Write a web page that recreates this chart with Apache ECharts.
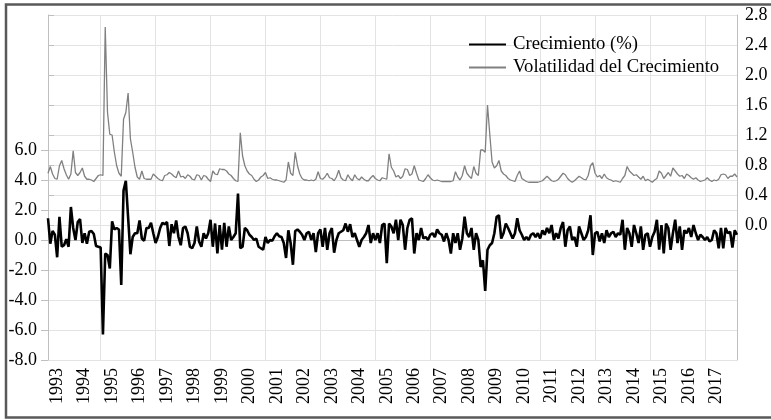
<!DOCTYPE html>
<html>
<head>
<meta charset="utf-8">
<script src="https://cdn.jsdelivr.net/npm/echarts@6/dist/echarts.min.js"></script>
<style>
html,body{margin:0;padding:0;background:#fff;}
#chart{width:771px;height:420px;}
</style>
</head>
<body>
<div id="chart"></div>
<script>
// Monthly series, Feb 1993 - Mar 2018
const startYear = 1993;
const startMonth = 2;

const crecimiento = [
1.45,-0.25,0.6,0.35,-1.15,1.55,-0.45,-0.35,0.05,-0.45,
2.2,0.8,0.0,1.2,1.4,-0.2,0.45,-0.25,0.55,0.6,
0.4,-0.4,-0.45,-0.5,-6.3,-0.9,-1.0,-1.9,1.25,0.7,
0.8,0.7,-3.0,3.3,3.95,1.5,-0.95,0.2,0.45,0.45,
1.3,0.1,-0.05,0.8,0.8,1.15,0.45,-0.2,0.2,0.8,
1.15,1.05,1.2,-0.4,1.05,0.45,1.3,0.2,-0.35,0.8,
0.9,0.45,-0.45,-0.55,-0.2,0.9,-0.1,-0.45,0.45,0.1,
0.45,1.35,-0.45,1.1,-0.9,1.0,-0.65,1.15,-0.45,0.9,
0.0,0.2,0.45,3.1,-0.55,-0.45,0.8,0.65,0.35,0.2,
0.0,0.1,-0.45,-0.55,-0.65,0.2,-0.2,0.0,-0.05,0.25,
0.45,0.25,0.2,-0.2,-1.2,0.65,-0.2,-1.65,0.6,0.7,
0.55,0.35,0.0,0.45,0.55,0.0,0.45,-0.8,0.45,0.7,
-0.45,0.8,-0.65,0.45,0.8,-0.85,0.0,0.45,0.55,0.65,
1.1,0.55,1.05,0.2,0.45,0.0,-0.45,0.0,0.2,0.45,
1.0,-0.2,0.45,0.0,0.45,-0.2,1.0,1.1,-1.55,1.1,
0.9,0.45,1.35,0.0,1.35,1.0,-0.65,0.8,1.35,1.45,
-0.9,0.45,0.0,0.8,0.1,0.2,0.0,0.35,0.45,0.2,
0.7,0.45,0.35,-0.1,0.45,0.0,-0.9,0.45,-0.2,0.45,
-0.65,0.1,1.55,0.45,0.2,0.8,-0.65,0.45,0.0,-1.8,
-1.35,-3.4,-0.65,-0.35,-0.2,0.45,1.55,1.65,0.1,0.45,
1.1,0.8,0.45,0.1,0.45,1.45,0.65,0.35,0.0,0.2,
0.0,0.35,0.45,0.2,0.45,0.1,0.65,0.35,0.8,0.45,
1.0,0.0,0.45,0.1,0.8,1.2,-0.45,0.65,0.9,0.0,
0.2,-0.45,0.9,0.45,0.0,0.2,0.65,1.65,-1.0,0.45,
0.55,-0.1,0.45,-0.2,0.65,0.2,0.45,0.55,0.2,0.45,
0.35,1.35,-0.65,0.8,0.45,-0.45,1.0,0.45,-0.2,0.9,
-0.65,0.35,0.45,-0.45,0.2,0.55,1.35,-0.65,1.0,-0.9,
1.1,0.8,-0.65,0.45,1.35,-0.2,0.9,-0.65,0.65,0.45,
0.8,0.2,1.0,0.45,0.0,0.35,0.2,0.0,0.2,-0.1,
0.0,0.65,0.45,-0.55,0.8,-0.55,0.8,0.45,0.55,-0.5,
0.65,0.35
];

const volatilidad = [
0.69,0.78,0.68,0.62,0.61,0.79,0.86,0.75,0.67,0.61,
0.68,0.99,0.70,0.66,0.70,0.76,0.65,0.61,0.61,0.60,
0.58,0.62,0.66,0.67,0.66,2.64,1.50,1.21,1.20,0.97,
0.79,0.69,0.65,1.41,1.50,1.76,1.15,0.97,0.77,0.64,
0.61,0.72,0.62,0.61,0.61,0.61,0.68,0.65,0.62,0.60,
0.59,0.66,0.67,0.70,0.68,0.65,0.63,0.72,0.64,0.65,
0.62,0.67,0.65,0.61,0.60,0.67,0.66,0.60,0.66,0.65,
0.61,0.58,0.72,0.68,0.67,0.75,0.74,0.74,0.72,0.68,
0.66,0.62,0.59,0.58,1.23,0.92,0.79,0.72,0.68,0.66,
0.61,0.58,0.60,0.64,0.66,0.70,0.62,0.63,0.61,0.60,
0.60,0.59,0.58,0.57,0.60,0.84,0.69,0.66,0.97,0.79,
0.68,0.62,0.60,0.60,0.59,0.60,0.59,0.61,0.71,0.62,
0.61,0.64,0.69,0.63,0.62,0.59,0.64,0.73,0.63,0.60,
0.59,0.67,0.62,0.59,0.67,0.62,0.60,0.64,0.61,0.59,
0.59,0.63,0.66,0.62,0.60,0.59,0.63,0.62,0.61,0.95,
0.77,0.72,0.64,0.66,0.62,0.65,0.75,0.74,0.66,0.68,
0.79,0.69,0.60,0.59,0.58,0.62,0.67,0.63,0.60,0.59,
0.60,0.59,0.58,0.58,0.58,0.58,0.58,0.59,0.71,0.64,
0.60,0.66,0.79,0.69,0.65,0.62,0.78,0.69,0.66,1.00,
1.00,0.97,1.60,1.21,0.84,0.76,0.79,0.86,0.72,0.68,
0.66,0.62,0.60,0.59,0.58,0.66,0.72,0.62,0.60,0.58,
0.57,0.57,0.57,0.57,0.57,0.58,0.59,0.62,0.65,0.62,
0.59,0.58,0.59,0.61,0.65,0.69,0.67,0.62,0.59,0.57,
0.59,0.62,0.65,0.63,0.61,0.60,0.66,0.79,0.83,0.69,
0.64,0.66,0.62,0.68,0.63,0.61,0.60,0.58,0.59,0.58,
0.57,0.62,0.66,0.78,0.72,0.69,0.66,0.67,0.64,0.61,
0.65,0.59,0.61,0.59,0.57,0.60,0.62,0.72,0.69,0.62,
0.66,0.70,0.65,0.76,0.72,0.68,0.65,0.66,0.62,0.68,
0.66,0.63,0.61,0.63,0.60,0.58,0.59,0.60,0.63,0.60,
0.58,0.60,0.59,0.61,0.67,0.68,0.67,0.62,0.65,0.65,
0.68,0.64
];

const yearLabels = ['1993','1994','1995','1996','1997','1998','1999','2000','2001','2002','2003','2004','2005','2006','2007','2008','2009','2010','2011','2012','2013','2014','2015','2016','2017'];
const gridYears = ['1995','1997','1999','2001','2003','2005','2007','2009','2011','2013','2015','2017'];
const leftTicks = {min: -8, max: 6, step: 2};
const rightTicks = {min: 0, max: 2.8, step: 0.4};
const seriesNames = ['Crecimiento (%)', 'Volatilidad del Crecimiento'];

const months = [];
for (let k = 0; k < crecimiento.length; k++) {
  const t = startMonth - 1 + k;
  const m = t % 12 + 1;
  const y = startYear + Math.floor(t / 12);
  months.push(y + '-' + (m < 10 ? '0' : '') + m);
}

const FONT = 'Liberation Serif';
const AXIS_C = '#bfbfbf';
const GRID_C = '#e3e3e3';

const chart = echarts.init(document.getElementById('chart'), null, {renderer: 'canvas'});
chart.setOption({
  animation: false,
  backgroundColor: '#ffffff',
  grid: [
    {left: 48, right: 34, top: 15, bottom: 60},
    {left: 48, right: 34, top: 150, bottom: 60},
    {left: 48, right: 34, top: 15, bottom: 195}
  ],
  legend: {
    data: seriesNames,
    orient: 'vertical',
    left: 463,
    top: 30,
    itemWidth: 37,
    itemHeight: 12,
    itemGap: 4,
    itemStyle: {opacity: 0},
    textStyle: {fontFamily: FONT, fontSize: 18.7, color: '#000', padding: [0, 0, 0, 2]}
  },
  xAxis: [
    {
      type: 'category', gridIndex: 0, data: months, boundaryGap: false,
      axisLine: {lineStyle: {color: AXIS_C, width: 1}},
      axisTick: {show: false},
      axisLabel: {
        interval: (i, v) => v.slice(5) === '06' && yearLabels.indexOf(v.slice(0, 4)) >= 0,
        formatter: v => v.slice(0, 4),
        rotate: 90, margin: 8,
        fontFamily: FONT, fontSize: 18, color: '#000'
      },
      splitLine: {
        show: true,
        interval: (i, v) => v.slice(5) === '01' && gridYears.indexOf(v.slice(0, 4)) >= 0,
        lineStyle: {color: GRID_C, width: 1}
      }
    },
    {type: 'value', gridIndex: 1, show: false, min: 0, max: 1},
    {type: 'value', gridIndex: 2, show: false, min: 0, max: 1}
  ],
  yAxis: [
    {
      type: 'value', gridIndex: 0, position: 'left', min: -8, max: 15,
      axisLine: {show: true, lineStyle: {color: AXIS_C}},
      axisTick: {show: false}, axisLabel: {show: false}, splitLine: {show: false}
    },
    {
      type: 'value', gridIndex: 0, position: 'right', min: -1.8, max: 2.8,
      axisLine: {show: true, lineStyle: {color: AXIS_C}},
      axisTick: {show: false}, axisLabel: {show: false}, splitLine: {show: false}
    },
    {
      type: 'value', gridIndex: 1, position: 'left',
      min: leftTicks.min, max: leftTicks.max, interval: leftTicks.step,
      axisLine: {show: false},
      axisTick: {show: true, length: 7, lineStyle: {color: AXIS_C}},
      axisLabel: {formatter: v => v.toFixed(1), fontFamily: FONT, fontSize: 18, color: '#000', margin: 11},
      splitLine: {show: true, lineStyle: {color: GRID_C}}
    },
    {
      type: 'value', gridIndex: 2, position: 'right',
      min: rightTicks.min, max: rightTicks.max, interval: rightTicks.step,
      axisLine: {show: false},
      axisTick: {show: true, length: 6, lineStyle: {color: AXIS_C}},
      axisLabel: {formatter: v => v.toFixed(1), fontFamily: FONT, fontSize: 18, color: '#000', margin: 8},
      splitLine: {show: true, lineStyle: {color: GRID_C}}
    }
  ],
  series: [
    {
      name: seriesNames[0], type: 'line', xAxisIndex: 0, yAxisIndex: 0,
      data: crecimiento, symbol: 'none', showSymbol: false,
      lineStyle: {color: '#000', width: 2.6}, itemStyle: {color: '#000'}, z: 3
    },
    {
      name: seriesNames[1], type: 'line', xAxisIndex: 0, yAxisIndex: 1,
      data: volatilidad, symbol: 'none', showSymbol: false,
      lineStyle: {color: '#808080', width: 1.3}, itemStyle: {color: '#808080'}, z: 4
    }
  ],
  graphic: [
    {type: 'rect', shape: {x: 6, y: 4.5, width: 800, height: 413}, style: {fill: 'none', stroke: '#595959', lineWidth: 2.5}, silent: true, z: 100}
  ]
});
</script>
</body>
</html>
